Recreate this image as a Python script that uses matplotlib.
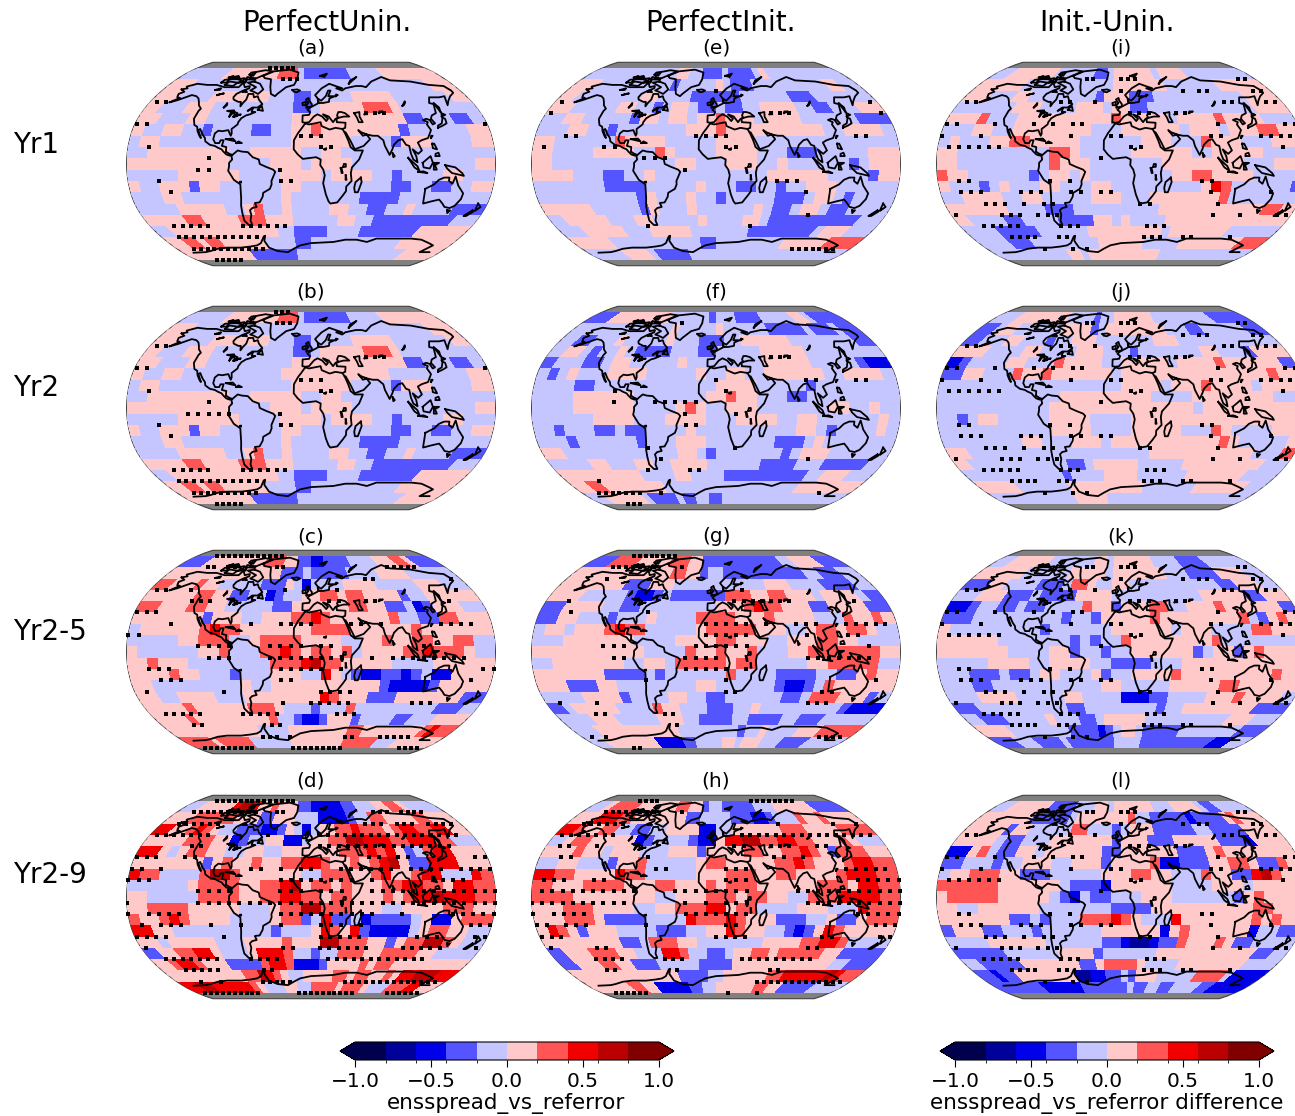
import numpy as np
import matplotlib
matplotlib.use("Agg")
import matplotlib.pyplot as plt
from matplotlib.cm import ScalarMappable
from matplotlib.colors import BoundaryNorm
from matplotlib.patches import Polygon

# figure in pixels
W, H = 1295, 1116

# ── map layout ──────────────────────────────────────────────────────────────
COL_X = [126, 531, 936]
ROW_Y = [62, 306, 550, 795]
MAP_W, MAP_H = 370, 204
LETTER_X = [311, 716, 1121]
LETTER_Y = [48, 292, 537, 781]
COL_TITLES = ["PerfectUnin.", "PerfectInit.", "Init.-Unin."]
COL_TITLE_X = [327, 720, 1107]
ROW_LABELS = ["Yr1", "Yr2", "Yr2-5", "Yr2-9"]
ROW_LABEL_Y = [145, 388, 632, 875]
LETTERS = [["(a)", "(b)", "(c)", "(d)"], ["(e)", "(f)", "(g)", "(h)"], ["(i)", "(j)", "(k)", "(l)"]]

LEVELS = [-1.0, -0.8, -0.6, -0.4, -0.2, 0.0, 0.2, 0.4, 0.6, 0.8, 1.0]
CB_TICKS = [-1.0, -0.5, 0.0, 0.5, 1.0]

# map shape, pole to equator width and height per 5 deg
TAB_LAT = [0, 5, 10, 15, 20, 25, 30, 35, 40, 45, 50, 55, 60, 65, 70, 75, 80, 85, 90]
TAB_LEN = [1, .9986, .9954, .99, .9822, .973, .96, .9427, .9216, .8962, .8679, .835,
           .7986, .7597, .7186, .6732, .6213, .5722, .5322]
TAB_Y = [0, .062, .124, .186, .248, .31, .372, .434, .4958, .5571, .6176, .6769,
         .7346, .7903, .8435, .8936, .9394, .9761, 1.0]

# ── cell classes, top row (85..75N) to bottom row (75..85S), 36 columns from 180W
# token = class digit + run length, class 0..9 is one colour bin from -1 to 1
ROWS_A = [
    "45 58 63 41 37 45 57", "52 432 52", "52 44 57 43 32 45 55 47 51",
    "51 43 53 49 32 41 55 63 51 48", "52 43 52 49 512 32 43 32 41",
    "51 42 52 42 31 44 32 42 52 61 58 31 46 52", "41 52 413 56 44 31 53 44 52",
    "42 58 42 55 42 52 415", "510 44 53 41 54 412 52",
    "45 56 44 54 41 54 42 31 44 52 43", "51 42 53 31 52 46 52 49 32 42 32 42 52",
    "43 52 410 51 47 34 49", "44 55 42 51 61 42 51 44 52 42 32 42 51 44 33",
    "54 62 54 63 53 45 52 42 39 42", "41 513 42 34 44 37 55",
    "51 62 51 62 56 44 32 412 56", "59 37 416 54",
]
ROWS_B = list(ROWS_A)
ROWS_B[5] = "51 42 52 410 511 48 52"
ROWS_C = [
    "32 59 63 52 32 22 34 44 53 62 51 32", "514 32 31 41 35 44 54 45",
    "61 53 61 52 45 33 51 41 21 44 54 45 53 42",
    "55 62 52 32 42 21 31 42 52 62 51 62 54 31 42 55",
    "62 53 62 52 45 32 56 62 52 32 41 21 31 53 42 51",
    "57 31 53 42 53 62 71 61 56 61 42 32 62 53", "41 56 61 71 62 57 64 56 61 57",
    "45 52 63 42 51 64 54 42 52 61 52 62 52 62 42",
    "51 46 52 61 43 62 71 61 51 62 51 61 41 54 62 71 62 61 51 42",
    "52 61 53 48 63 71 81 62 55 44 56",
    "54 61 52 43 31 43 53 42 71 51 41 31 22 32 21 31 41 22 54",
    "52 49 51 42 511 31 24 31 55 42", "52 42 54 43 58 71 61 53 33 57 32",
    "54 61 56 63 51 43 31 43 61 49 33 41", "53 61 59 61 42 31 22 31 53 31 44 32 43 53",
    "511 44 58 62 58 61 71 61", "63 51 65 46 58 65 43 55",
]
ROWS_D = [
    "41 55 71 82 71 52 61 53 32 25 32 43 52 62 51 43",
    "52 66 53 32 53 43 24 31 42 62 54 62 52",
    "71 52 61 71 61 51 42 33 22 31 51 41 21 41 52 62 71 63 51 61 72 62 72 51",
    "54 63 52 21 31 42 52 22 41 52 62 82 73 62 73 62 42",
    "72 51 41 51 62 52 42 52 42 56 63 71 61 71 51 31 41 61 72 53",
    "57 31 51 61 52 61 52 62 72 61 52 61 51 61 71 81 51 32 73 53",
    "71 62 44 61 82 61 56 42 63 52 61 71 52 61 72 43 71 61",
    "46 51 64 52 62 71 81 51 62 51 61 53 62 72 62 51 72 62",
    "52 45 64 52 62 72 62 51 62 53 61 51 61 72 81 73 62",
    "52 64 55 43 51 62 82 63 53 42 54 63 52",
    "61 52 61 71 61 54 44 51 62 31 41 71 32 41 21 34 41 51 22 51 63",
    "72 52 410 31 43 51 71 61 51 71 31 24 41 51 62 52 42",
    "52 41 55 43 54 61 53 82 63 52 31 51 62 82 61 51 42",
    "31 52 62 72 51 43 51 72 71 61 42 31 42 63 52 64 52 44",
    "51 61 72 61 53 34 61 72 61 23 31 54 61 51 62 58",
    "59 62 81 71 61 51 42 54 62 51 62 52 61 51 72 83 71",
    "71 82 76 61 51 43 52 42 64 51 63 51 43 63 72 51",
]
ROWS_E = [
    "412 52 42 33 41 34 41 51 410", "52 410 31 45 51 41 33 410 52 41",
    "51 48 52 44 36 46 33 46", "52 45 52 42 31 41 52 41 32 41 32 42 54 42 32 43 52",
    "42 52 45 31 52 41 52 41 52 61 53 41 54 46 33",
    "43 52 42 31 47 53 61 510 42 54 41", "52 46 61 54 45 54 414",
    "52 44 54 42 61 51 44 54 43 33 45 53", "52 412 52 43 53 42 51 46 31 41 53",
    "54 43 32 42 51 411 56 44 31 52", "47 34 45 51 43 32 42 31 42 53 46",
    "410 31 51 43 51 42 31 45 33 41 52 41 31 44",
    "55 45 31 51 43 51 46 51 41 32 41 52 41 32 44", "41 55 43 52 45 51 44 52 41 310 42",
    "42 55 43 55 47 38 41 53 42", "54 412 32 49 56 63", "44 54 41 35 422",
]
ROWS_F = [
    "32 59 46 31 43 34 45 52 41 33", "412 51 45 51 46 35 41 33 41 31",
    "41 32 43 51 45 51 43 33 42 56 48 31", "41 52 41 31 42 51 41 34 43 32 45 55 48",
    "31 43 32 41 52 45 51 48 55 45 31 22", "41 31 41 51 43 54 45 51 42 52 42 56 42 54 41",
    "44 32 412 54 45 31 48", "44 56 47 52 61 52 43 32 49",
    "44 56 44 51 61 51 42 53 47 52 42 51 42", "46 54 43 54 43 54 42 52 46 51 41",
    "42 31 43 32 41 32 44 51 410 52 41 31 44 51 41", "43 31 46 31 43 53 47 33 41 51 47",
    "52 412 52 41 31 47 31 41 53 46", "44 52 43 52 42 54 46 34 43 35 41",
    "59 44 52 44 310 42 53 42", "51 62 58 418 57", "41 56 41 34 41 32 42 32 417",
]
ROWS_G = [
    "32 64 55 63 52 312 42 54 32", "512 62 52 31 42 311 42 33 41", "57 33 53 411 53 44 34 41",
    "53 45 31 22 31 41 36 63 52 62 53 41 54 41 31",
    "32 54 42 32 45 43 53 61 71 62 53 32 54 32",
    "32 52 43 31 43 51 44 64 53 61 54 43 61 52 61 51",
    "41 52 41 53 61 71 62 45 51 65 53 42 51 62 51 62 51 42",
    "43 57 44 54 62 53 42 53 62 52 44", "511 44 61 52 61 52 61 43 52 67 52",
    "42 57 42 52 41 65 51 62 45 52 65 42", "57 34 41 31 46 61 44 34 42 32 51 61 52",
    "53 33 52 48 52 46 31 22 31 41 61 56", "44 54 31 44 52 42 32 46 32 41 63 53 31 41",
    "31 41 55 44 61 52 43 33 42 51 49 31 23", "43 53 45 53 42 34 42 34 42 33 45",
    "42 511 48 31 42 51 44 53 64", "41 58 24 32 44 52 41 53 43 34 44",
]
ROWS_H = [
    "41 51 64 56 62 52 31 42 35 43 56 33", "52 73 62 57 32 44 33 22 31 43 61 52 61 53",
    "71 61 52 62 42 32 42 54 22 42 56 63 54 63",
    "41 51 62 55 21 31 44 31 22 51 72 82 62 72 62 53 61 51 42",
    "53 61 52 41 53 43 53 31 54 62 52 62 71 61 51 31 61 62 53",
    "42 52 43 31 52 61 45 51 62 55 62 71 61 53 61 72 62",
    "72 62 54 71 62 45 53 63 52 62 54 61 73 62",
    "62 53 64 53 62 53 61 51 63 56 63 51 72 62",
    "64 58 42 53 63 51 62 52 42 62 61 74 63",
    "53 63 54 42 52 63 72 51 62 44 53 43 71 63",
    "53 63 51 34 44 71 63 71 61 53 33 42 51 32 51 63",
    "51 71 61 51 31 53 44 33 42 52 71 61 52 42 31 21 31 51 71 61 55",
    "58 32 41 63 52 47 54 62 72 61 44",
    "31 53 63 52 43 72 61 42 32 41 52 62 51 65 52 34",
    "31 53 62 52 33 45 34 512 42 32", "513 34 42 56 62 76 81 71 61",
    "55 62 52 25 32 42 56 62 52 35 43",
]
ROWS_I = [
    "41 57 46 32 41 56 41 54 48", "55 412 57 47 55", "52 43 52 48 31 53 33 411 53",
    "46 53 44 53 41 52 32 412 53", "53 61 43 510 61 55 41 54 61 54 43",
    "43 52 42 58 43 56 41 53 41 53 62 52", "41 51 43 52 62 54 51 46 53 43 61 53 43 53",
    "52 49 62 51 45 56 42 55 44", "52 49 61 53 47 58 43 53",
    "61 52 46 31 41 52 41 51 48 52 62 54 45", "51 43 31 41 51 43 52 43 52 49 51 71 61 46 31",
    "42 54 42 52 45 53 43 57 61 47", "56 44 33 49 511 62 51",
    "51 44 32 44 34 52 41 51 44 513", "43 35 46 59 41 57 45", "43 33 49 56 45 58 62",
    "410 52 41 511 412",
]
ROWS_J = [
    "42 58 44 31 42 56 49 34", "31 41 52 46 54 31 41 58 43 32 46 31",
    "31 43 52 43 31 42 53 47 53 411", "53 44 52 44 53 43 31 47 52 43 31 53",
    "21 31 44 52 43 61 54 42 55 41 54 61 56 31", "32 52 43 61 52 61 56 41 515 61 52",
    "418 54 41 53 61 54 41 54", "412 59 44 58 43", "411 514 41 510",
    "42 31 41 52 45 54 44 517", "411 54 44 55 43 61 51 44 53", "48 52 43 53 41 511 61 51 45 51",
    "52 419 511 43 61", "51 411 32 41 55 45 59 42", "411 31 44 54 46 57 43", "54 47 510 47 57 41",
    "411 55 420",
]
ROWS_K = [
    "41 56 47 52 41 56 44 34 45", "55 46 55 41 57 43 34 54 41", "32 52 44 33 41 62 51 42 52 411 32 53 41",
    "42 53 33 41 34 54 410 55 31 31 52", "22 31 42 32 41 32 44 61 52 31 53 62 42 53 61 56 31",
    "33 49 31 42 31 55 61 58 61 41 31 51 61 51", "51 49 31 46 56 41 53 44 62 53",
    "56 47 31 41 31 42 61 57 51 61 48", "57 44 52 31 42 31 42 56 31 41 52 31 51 61 54",
    "45 54 42 54 42 34 43 512", "43 33 41 32 41 52 43 51 31 42 54 61 59 61 52",
    "43 32 411 52 45 55 62 56", "43 54 45 52 44 23 32 44 53 61 54 43",
    "32 410 32 48 31 42 58 33", "41 33 45 51 43 32 41 55 410 53 42",
    "53 48 34 21 31 41 52 41 35 48 32", "32 43 34 41 36 31 43 41 311 23 41",
]
ROWS_L = [
    "41 56 34 43 52 41 56 43 54 41 32 43", "56 35 41 55 52 61 42 35 21 34 51 61 52",
    "54 31 52 45 62 43 31 41 53 35 42 34 53", "54 41 32 43 57 31 53 33 55 33 21 53",
    "22 51 61 41 32 52 41 56 32 56 33 51 61 57",
    "32 43 31 42 53 42 53 31 54 61 22 33 52 62 51 32 61 51",
    "41 52 63 52 33 45 53 62 52 43 61 52 32 71 81 61 52", "66 56 41 33 21 56 44 53 41 55",
    "51 65 55 41 31 21 41 32 43 53 46 31 51 61 54", "52 42 56 47 34 510 62 53",
    "57 32 41 31 43 63 71 61 51 43 71 57 61 51 61 52",
    "31 53 32 43 31 46 56 21 51 61 56 21 42 32", "44 56 46 32 21 12 21 32 61 53 61 51 32 44",
    "35 46 54 31 46 511 32 41", "41 35 57 32 51 64 51 44 58 43", "31 21 32 58 12 22 32 41 31 53 45 64 41 23",
    "36 26 37 41 32 42 32 44 32 24",
]

# ── stippling, tens of degrees of longitude by latitude ─────────────────────
STIP_A = {
    85: [-7, -6, -5, -4, -3], 75: [-4, -3, -2], 55: [-18, -17], 45: [6, 7, 8], 35: [-18, -17, 18],
    25: [-1, 0, 1], 15: [-16, 1, 2], 5: [-10], -5: [-11, -10, -3], -15: [-15, -3, -2], -25: [-14],
    -55: [-16, -15, -14, -13, -12, -8, -7, -6, -5, -4, -3],
    -65: [-17, -16, -15, -14, -13, -12, -11, -10, -9, -8, -7],
    -75: [-17, -16, -15, -14, -13, -12, -11, -10, -9, -8, -7], -85: [-16, -15, -14, -13, -12],
}
STIP_B = {
    85: [-6, -5, -4], 75: [-5, -4, -3], 55: [-18, -17], 45: [6, 7, 8], 35: [-18, -17, 18],
    25: [-1, 0, 1], 15: [-16, 1, 2], 5: [-10], -5: [-12, -11, -10, -9, -8, -3], -15: [-15, -3, -2],
    -25: [-14], -55: [-16, -15, -14, -13, -12, -8, -7, -6, -5, -4, -3],
    -65: [-17, -16, -15, -14, -13, -12, -11, -10, -9, -8, -7],
    -75: [-17, -16, -15, -14, -13, -12, -11, -10, -9, -8], -85: [-16, -15, -14, -13, -12],
}
STIP_C = {
    85: [-16, -15, -14, -13, -12, -11, -10, -9, -8, -7, -6, -5],
    75: [-15, -14, -12, -11, -5, -4, 11, 12, 13, 14, 15], 65: [7, 8, 18], 55: [-18, -17, -14, -3, 3, 17],
    45: [-13, -12, -11, 2, 3, 6, 7, 15], 35: [-18, -17, -16],
    25: [-14, -6, -3, -2, -1, 0, 4, 5, 7, 13, 14, 15, 16], 15: [-18, -17],
    5: [-11, -10, -9, -8, -4, -3, -2, -1, 1, 2, 11],
    -5: [-10, -9, -8, -4, -3, -2, -1, 0, 1, 2, 3, 6, 8, 9, 10, 11, 12, 13, 14, 15],
    -15: [-16, -15, -14, -3, -2, -1, 0, 1, 3, 17, 18], -25: [-15, -14, -13, -3, -2, 16],
    -35: [-17, -9, 1, 2, 3, 4], -45: [-3, 0, 1, 2, 3, 4, 11, 12, 13],
    -55: [-17, -16, -15, -14, -13, -8, -7, -6, -5, -4, 3, 4, 5], -65: [-15, -14, -5, -4],
    -75: [-7, -6, -5, -3, 5, 6, 10, 11, 12, 13, 14],
    -85: [-18, -17, -16, -15, -14, -13, -12, -11, -10, -3, -2, -1, 0, 1, 2, 3, 4, 5, 15, 16, 17, 18],
}
STIP_D = {
    85: [-16, -15, -14, -13, -12, -11, -10, -9, -8, -7, -6, -5, -4, -3],
    75: [-17, -16, -15, -14, -13, -12, -11, -10, -9, -8, -5, -4, 9, 10, 11, 13, 14, 15, 16],
    65: [-17, -16, -15, -14, -13, -12, 7, 8, 9, 11, 12, 13, 15, 16, 17, 18],
    55: [-18, -17, -16, -15, -14, -13, -12, -5, 1, 2, 3, 4, 5, 6, 7, 8, 9, 10, 11, 12, 13, 14, 15, 16, 17],
    45: [-13, -12, 1, 2, 3, 4, 5, 6, 7, 8, 9, 10, 11, 12, 13, 14, 15],
    35: [-18, -17, -16, -13, -12, 6, 7, 9, 10, 17, 18],
    25: [-18, -17, -15, -6, -5, -3, -1, 0, 3, 4, 5, 6, 7, 8, 10, 11, 12, 13, 15, 16, 17, 18],
    15: [-18, -17, -16, -3, -2, -1, 0, 1, 2, 3, 4, 6, 12, 13, 14, 15],
    5: [-11, -10, -9, -8, -3, -2, -1, 1, 2, 3, 6, 7, 8, 9, 10, 11, 12, 13, 14, 15, 16, 17, 18],
    -5: [-18, -11, -10, -9, -8, -7, -6, -5, -4, -3, -2, -1, 0, 1, 2, 3, 4, 5, 6, 7, 8, 9, 10, 11, 12, 13, 14,
         15, 16, 17, 18],
    -15: [-18, -16, -15, -14, -13, -3, -2, -1, 0, 1, 2, 3, 4, 5, 6, 9, 14, 15, 16, 17, 18],
    -25: [-17, -15, -14, -13, -10, -7, -3, 1, 2, 3, 5, 16, 17, 18],
    -35: [-18, -17, -16, -15, -9, 1, 2, 3, 4, 5, 11, 12, 13, 17, 18],
    -45: [-18, -3, -2, 1, 2, 3, 4, 5, 6, 10, 11, 12, 13, 14, 18],
    -55: [-17, -16, -15, -14, -13, -12, -11, -7, -6, -5, -4, 2, 3, 4, 5, 6, 7, 8, 9, 10, 11, 12, 13],
    -65: [-16, -15, -14, -13, -12, -6, -5],
    -75: [-16, -13, -7, -6, -5, -4, -3, 5, 6, 7, 8, 9, 10, 11, 12, 13, 14, 15, 16, 17, 18],
    -85: [-18, -17, -16, -15, -14, -13, -12, -11, -10, -9, -2, -1, 0, 1, 2, 3, 4, 5, 6, 7, 13, 14, 15, 16, 17, 18],
}
STIP_E = {
    65: [0], 55: [-18, 18], 45: [-18, 6, 7, 8, 18], 25: [-15, -14, -2, -1, 0, 1, 14, 15],
    15: [-17, -11, -10, 1, 2], 5: [-7, -6, -5], -5: [-3], -15: [6, 7, 8], -25: [9], -45: [10], -55: [-8, 4],
    -75: [11, 12, 13, 14, 15, 16, 17],
}
STIP_F = {
    75: [-5], 45: [6, 7, 8], 25: [0, 9, 10, 14, 15], 15: [-10, 1], 5: [-10, -6, -5, -4, -3, -2], -5: [-3, 2],
    -15: [-3, -2], -35: [-7, 2], -45: [-6, 10], -55: [-8, -3, -2], -65: [-15],
    -75: [-17, -16, -15, -14, -13, -12, -11, -8, 15], -85: [-15, -14, -13],
}
STIP_G = {
    85: [-14, -13, -12, -11, -10, -9, -8, -7], 75: [-15, -14, -13, -12, -11, -9, -5], 65: [-14], 55: [3],
    45: [-16, 2, 3, 4, 5, 6, 7, 8, 15], 35: [-15, -7],
    25: [-1, 0, 1, 2, 3, 5, 8, 9, 10, 13, 14, 15, 16, 17], 15: [-1, 0, 1, 2, 3, 9, 13, 14],
    5: [-11, -10, -9, -2, -1, 0, 1, 2, 3, 15], -5: [-10, -9, -3, -2, -1, 0, 9, 10, 11, 12, 13, 14, 15],
    -15: [-3, -2, -1, 0, 1, 3], -25: [-7, 1, 16], -35: [1, 2, 11, 12], -45: [-17, -13, 10, 11, 12],
    -55: [-14, -13, -6, -5], -65: [-5], -75: [-18, -16, 15, 16, 17, 18], -85: [-14, -13],
}
STIP_H = {
    85: [-13, -12, -11, -10, 6, 7, 8, 9, 10, 11, 12, 13],
    75: [-16, -15, -14, -13, -12, -11, -10, -9, -5], 65: [-17, -16, -15, -14, -13, -12, 8, 15, 18],
    55: [-18, -17, -16, -15, -14, -13, -12, 3, 4, 5, 6, 7, 8, 9, 10, 11, 12, 13, 14, 15, 16, 17, 18],
    45: [-17, -16, -13, 2, 3, 6, 7, 8, 11, 12], 35: [-16, -15, -7, 6, 7, 9],
    25: [-6, -5, 1, 2, 3, 13, 14, 15, 16, 17], 15: [-17, -16, -15, -12, -11, 1, 2, 3, 14, 15, 16, 17, 18],
    5: [-17, -16, -15, -14, -13, -12, -11, -10, -9, -8, -4, -3, -2, -1, 0, 1, 2, 3, 8, 9, 10, 11, 12, 13, 14, 15,
        16, 17, 18],
    -5: [-18, -17, -16, -15, -14, -13, -12, -11, -10, -9, -3, -1, 1, 2, 3, 9, 10, 11, 12, 13, 14, 15, 16, 17, 18],
    -15: [-18, -16, -15, -14, -13, -3, -2, -1, 0, 1, 2, 3, 14, 15, 16, 17, 18],
    -25: [-18, -17, -15, -14, -13, -7, 1, 2, 16, 17, 18], -35: [-18, -17, -16, 0, 1, 2, 3, 11, 12, 17, 18],
    -45: [-18, -13, -12, 10, 11], -55: [-14, -13, -12, -11, -6, -5, -4, 3, 4, 5, 6, 7, 8, 9, 10, 11],
    -65: [-14, -13, -5, 7, 8], -75: [6, 7, 8, 9, 10, 11, 12, 13, 14, 15, 16, 17, 18],
    -85: [-17, -16, -15, -14, -13, -12, 2, 7],
}
# the third column shares one stipple pattern
STIP_I = {
    75: [-5, -4, 0, 1, 2, 17, 18], 65: [0, 8, 10, 11, 17, 18], 55: [-18, -17, -7, -6, -3, 12, 13, 17, 18],
    45: [1, 2, 3, 6, 7], 35: [-18, -17, -13, -9, -7, -5, -4, 10, 17, 18],
    25: [-18, -14, -5, -1, 0, 9, 10, 14, 15, 16, 17], 15: [-17, -16, -15, -14, -13, -12, 1, 2, 16], 5: [-2],
    -15: [-16, -15, -7, -5, 8, 9], -25: [-16, -15, -14, -10, -9, -8, -5, -4, -2, -1, 9, 15],
    -35: [-14, -13, -12, -10, -8, -7, 2, 3, 10], -45: [-18, -13, -12, -11, -9, -8, -7, 10, 13, 17, 18],
    -55: [-16, -15, -14, -13, -12, -7, -6, -5, 3, 4, 5], -65: [-14, -13, -12, -11, -8, -7, 3, 4, 5, 8, 9, 14],
    -75: [-11, -7, -5],
}

# ── coastlines and lakes, lon/lat ───────────────────────────────────────────
COAST = [
    [(-168, 66), (-162, 67), (-166, 68.5), (-156, 71), (-141, 70), (-128, 70), (-115, 68), (-108, 68), (-96, 68),
     (-94, 72), (-88, 68), (-82, 69), (-81, 67), (-87, 65), (-93, 62), (-94, 59), (-92, 57), (-85, 55), (-82, 55),
     (-80, 51), (-79, 54), (-77, 57), (-78, 62), (-72, 62), (-69, 59), (-65, 60), (-62, 57), (-56, 53), (-60, 50),
     (-66, 50), (-70, 47), (-65, 49), (-65, 46), (-61, 46), (-66, 44), (-70, 43), (-74, 40.5), (-76, 37), (-76, 35),
     (-81, 31), (-80, 27), (-80.5, 25), (-82, 27), (-84, 30), (-90, 29), (-94, 29.5), (-97, 27), (-97.5, 22),
     (-95, 18.5), (-91, 18.5), (-90, 21), (-87, 21), (-88, 16), (-83.5, 15), (-83.5, 11), (-80, 9), (-77, 8),
     (-78, 7.5), (-80, 7.5), (-83, 8.5), (-86, 11), (-88, 13), (-92, 14.5), (-95, 16), (-100, 17), (-105, 20),
     (-106, 23), (-109, 26), (-113, 31), (-114.5, 30), (-110, 23), (-112, 25), (-115, 29), (-117, 33), (-120.5, 34.5),
     (-124, 40), (-124, 47), (-123, 49), (-128, 52), (-131, 55), (-135, 58), (-140, 60), (-147, 61), (-152, 59),
     (-158, 56.5), (-165, 54.5), (-158, 58.5), (-162, 59), (-165, 62), (-161, 64), (-168, 66)],
    [(-77, 8), (-72, 12), (-68, 11), (-62, 10.5), (-57, 6), (-51, 4), (-50, 0), (-44, -2.5), (-37, -5), (-35, -7),
     (-39, -15), (-39, -18), (-41, -22), (-48, -25.5), (-49, -29), (-53, -34), (-58, -34.5), (-57, -38), (-62, -39),
     (-65, -41), (-65, -45), (-68, -50), (-68, -54), (-72, -54), (-75, -50), (-74, -43), (-73, -37), (-71, -30),
     (-70, -18), (-76, -14), (-81, -6), (-80, -2), (-80, 1), (-77, 4), (-78, 7.5)],
    [(-6, 36), (-2, 35), (10, 37), (11, 33.5), (19, 30.5), (25, 32), (32, 31), (34, 28), (37, 21), (39, 15), (43, 12),
     (51, 12), (47, 4), (40, -3), (39, -8), (40, -15), (35, -20), (35, -24), (32, -28), (27, -34), (20, -35), (18, -33),
     (15, -27), (12, -17), (13.5, -10), (12, -5), (9, -1), (9.5, 4), (5, 6), (-4, 5), (-8, 4.5), (-13, 8.5), (-17, 13),
     (-17, 21), (-13, 27.5), (-10, 31), (-6, 36)],
    [(34, 28), (35, 28), (39, 21), (43, 13), (52, 16), (59, 22), (56, 26), (52, 25), (48, 30), (51, 28), (57, 26),
     (62, 25), (67, 25), (72, 21), (73, 16), (77, 8), (80, 13), (82, 17), (87, 21), (91, 22), (94, 17), (97, 16),
     (98, 9), (100, 4), (104, 1.5), (103, 7), (100, 13), (105, 9), (109, 12), (106, 19), (110, 21), (117, 23), (122, 30),
     (120, 35), (122, 37), (118, 39), (122, 40), (125, 39), (126, 35), (129, 36), (127, 40), (130, 43), (136, 45),
     (141, 53), (137, 54), (143, 59), (155, 59), (163, 60), (156, 52), (162, 56), (170, 60), (179, 63), (180, 65),
     (178, 69), (160, 70), (140, 73), (113, 74), (105, 77), (85, 73), (73, 68), (68, 69), (60, 69), (45, 67), (40, 65),
     (33, 67), (41, 67), (33, 69), (25, 71), (14, 67), (5, 61), (8, 58), (12, 56), (18, 60), (22, 65), (25, 65), (21, 60),
     (29, 60), (22, 58), (21, 55), (14, 54), (9, 54), (8, 57), (9, 54), (4, 52), (-1, 50), (-4, 48), (-1, 46), (-2, 43.5),
     (-9, 43), (-9, 37), (-6, 36.5), (-2, 37), (3, 42), (7, 44), (12, 42), (16, 38), (18, 40), (13, 44), (19, 42), (23, 37),
     (26, 40), (29, 41), (28, 43), (30, 46), (33, 46), (37, 45), (41, 42), (35, 42), (30, 41), (27, 40), (27, 37), (36, 36.5),
     (35, 32), (32, 31)],
    [(47, 45), (53, 46), (52, 42), (54, 37), (50, 37), (49, 41), (47, 45)],
    [(-73, 78), (-60, 82), (-35, 83.5), (-20, 81), (-20, 75), (-23, 70), (-33, 68), (-42, 62), (-44, 60), (-50, 62),
     (-54, 68), (-58, 75), (-68, 76), (-73, 78)],
    [(-24, 65.5), (-18, 66), (-14, 65), (-18, 63.5), (-22, 64), (-24, 65.5)],
    [(-5, 50), (1, 51), (1, 53), (-2, 56), (-3, 58.5), (-6, 57), (-3, 54), (-5, 52), (-5, 50)],
    [(-6, 52), (-6, 55), (-10, 54), (-9.5, 52), (-6, 52)],
    [(-80, 73), (-70, 71), (-62, 66), (-66, 62), (-73, 64), (-78, 65), (-73, 68), (-88, 72), (-80, 73)],
    [(-117, 70), (-105, 69), (-102, 72), (-115, 73), (-117, 70)],
    [(-90, 76), (-80, 76), (-62, 82), (-75, 83), (-92, 81), (-90, 76)],
    [(-125, 72), (-118, 72), (-118, 75), (-124, 74.5), (-125, 72)],
    [(-95, 75), (-80, 74.5), (-85, 76), (-95, 77), (-95, 75)],
    [(-105, 75), (-96, 73), (-98, 76), (-105, 75)],
    [(-120, 76), (-105, 76), (-110, 78), (-120, 76)],
    [(-87, 64), (-81, 63.5), (-84, 65.5), (-87, 64)],
    [(-101, 72), (-96, 72), (-98, 74), (-101, 72)],
    [(-95, 72), (-91, 72), (-92, 74), (-95, 72)],
    [(-117, 75), (-106, 75), (-110, 76.5), (-117, 75)],
    [(-95, 79), (-88, 78), (-88, 81), (-95, 81), (-95, 79)],
    [(-122, 76.5), (-115, 77), (-118, 78), (-122, 76.5)],
    [(-59, 48), (-53, 47), (-56, 51.5), (-59, 48)],
    [(-85, 22), (-75, 20), (-78, 22.5), (-85, 22)],
    [(-74, 18.5), (-68.5, 18.5), (-72, 20), (-74, 18.5)],
    [(14, 78), (25, 80), (20, 77), (14, 78)],
    [(52, 71), (68, 77), (56, 74), (52, 71)],
    [(142, 46), (144, 50), (142, 54), (142, 46)],
    [(130, 32), (136, 34), (141, 36), (142, 40), (140, 41), (136, 36), (131, 34), (130, 32)],
    [(140, 42), (145, 43.5), (142, 45), (140, 42)],
    [(120, 23), (122, 25), (120.5, 25), (120, 23)],
    [(120, 18), (122, 18), (124, 13), (120, 14), (120, 18)],
    [(122, 7), (126, 7), (125, 10), (122, 9), (122, 7)],
    [(109, 1), (117, 7), (119, 1), (116, -4), (110, -3), (109, 1)],
    [(95, 5.5), (104, -2), (106, -6), (101, -3), (95, 5.5)],
    [(105, -7), (114, -8), (110, -6.5), (105, -7)],
    [(120, 1), (125, 1), (121, -1), (123, -5), (120, -5), (120, 1)],
    [(131, -1), (141, -3), (148, -8), (150, -10.5), (143, -9), (138, -8), (133, -4), (131, -1)],
    [(80, 9.5), (82, 7), (80.5, 6), (80, 9.5)],
    [(49, -12), (50, -16), (47, -25), (44, -25), (43, -21), (44, -16), (49, -12)],
    [(114, -22), (122, -18), (126, -14), (131, -12), (136, -12), (136, -15), (140, -17.5), (142, -11), (146, -19),
     (153, -26), (153, -31), (150, -37), (146, -39), (140, -38), (136, -35), (131, -31.5), (124, -33), (116, -35),
     (115, -31), (114, -22)],
    [(145, -41), (148, -41), (147, -43.5), (145, -41)],
    [(173, -35), (178, -38), (175, -41.5), (174, -39), (173, -35)],
    [(172, -41), (174, -42), (170, -46), (167, -46), (172, -41)],
    [(-180, -78.5), (-160, -78), (-150, -77), (-135, -75), (-120, -74), (-100, -74), (-85, -73), (-75, -72), (-68, -70),
     (-60, -64), (-58, -63.5), (-62, -68), (-60, -74), (-50, -77), (-35, -78), (-25, -75), (-15, -72), (0, -70), (15, -69.5),
     (30, -69), (45, -67), (60, -67), (75, -69), (85, -66), (100, -66), (115, -66), (130, -66), (145, -67), (160, -70),
     (170, -72), (165, -78), (180, -78)],
    # lakes
    [(-92, 47), (-85, 47.5), (-85, 46.5), (-90, 46.5), (-92, 47)],
    [(-87.5, 42), (-85, 45.5), (-87.5, 45.5), (-87.5, 42)],
    [(-84, 46), (-80, 45), (-82, 43), (-84, 45), (-84, 46)],
    [(-83, 42), (-79, 43), (-79, 42.5), (-83, 41.5), (-83, 42)],
    [(-79.5, 43.5), (-76, 44), (-76.5, 43.3), (-79.5, 43.5)],
    [(-98, 50), (-97, 54), (-96, 52), (-98, 50)],
    [(-116, 61), (-109, 62.5), (-112, 62), (-116, 61)],
    [(-124, 65.5), (-118, 67), (-118, 65.5), (-124, 65.5)],
    [(104, 51.5), (110, 55.5), (109, 54), (106, 52), (104, 51.5)],
    [(58, 44), (61, 46), (61, 44), (58, 44)],
    [(74, 45), (79, 46.5), (75, 46.5), (74, 45)],
    [(30, 60), (33, 61), (31, 61.5), (30, 60)],
    [(13, 13), (15, 14), (14.5, 12.5), (13, 13)],
    [(31.5, -2.5), (32, 0), (34, 0), (34, -2.5), (31.5, -2.5)],
    [(29, -3.5), (30, -4), (31, -8), (30, -8), (29, -3.5)],
    [(34, -10), (35, -14), (34, -14), (34, -10)],
    [(-70, -16), (-69, -16.5), (-69, -15.5), (-70, -16)],
]

PANELS = [[ROWS_A, ROWS_B, ROWS_C, ROWS_D], [ROWS_E, ROWS_F, ROWS_G, ROWS_H], [ROWS_I, ROWS_J, ROWS_K, ROWS_L]]
STIPPLES = [[STIP_A, STIP_B, STIP_C, STIP_D], [STIP_E, STIP_F, STIP_G, STIP_H], [STIP_I, STIP_I, STIP_I, STIP_I]]


def project(lon, lat):
    # pseudo-cylindrical: width from the table, latitude linear in y
    lon, lat = np.asarray(lon, float), np.asarray(lat, float)
    return lon / 180.0 * np.interp(np.abs(lat), TAB_LAT, TAB_LEN), lat / 90.0


def outline_x(y):
    # the frame follows the table height, a bit rounder than the data grid
    return np.interp(np.abs(y), TAB_Y, TAB_LEN)


def decode(rows):
    out = []
    for row in rows:
        cells = []
        for tok in row.split():
            cells += [(int(tok[0]) - 4.5) * 0.2] * int(tok[1:])
        cells = (cells + cells[-1:] * 36)[:36]
        out.append(cells)
    return np.array(out)


def px_box(x, y, w, h):
    return [x / W, 1 - (y + h) / H, w / W, h / H]


cmap = plt.get_cmap("seismic")
norm = BoundaryNorm(LEVELS, cmap.N)

lat_edges = np.arange(85, -86, -10)
lon_edges = np.arange(-180, 181, 10)
LON, LAT = np.meshgrid(lon_edges, lat_edges)
GX, GY = project(LON, LAT)
# outer cells run up to the frame
GX[:, 0] = -outline_x(GY[:, 0]) * 1.01
GX[:, -1] = outline_x(GY[:, -1]) * 1.01

oy = np.linspace(-1, 1, 161)
ox = outline_x(oy)
outline = np.column_stack([np.r_[ox, -ox[::-1]], np.r_[oy, oy[::-1]]])

fig = plt.figure(figsize=(W / 100, H / 100), dpi=100, facecolor="white")

for c, x0 in enumerate(COL_X):
    for r, y0 in enumerate(ROW_Y):
        ax = fig.add_axes(px_box(x0, y0, MAP_W, MAP_H))
        ax.set_xlim(-1.003, 1.003)
        ax.set_ylim(-1.003, 1.003)
        ax.axis("off")
        edge = Polygon(outline, closed=True, fc="#808080", ec="#404040", lw=0.8, zorder=1, clip_on=False)
        ax.add_patch(edge)
        mesh = ax.pcolormesh(GX, GY, decode(PANELS[c][r]), cmap=cmap, norm=norm, zorder=2, antialiased=False)
        mesh.set_clip_path(edge)
        for line in COAST:
            lx, ly = project(*zip(*line))
            ax.plot(lx, ly, color="black", lw=1.3, zorder=3, solid_joinstyle="round")
        sx, sy = [], []
        for lat, lons in STIPPLES[c][r].items():
            px_, py_ = project(np.array(lons) * 10.0, np.full(len(lons), lat))
            sx += list(px_)
            sy += list(py_)
        ax.scatter(sx, sy, s=5, marker="s", color="black", linewidths=0, zorder=4)
        fig.text(LETTER_X[c] / W, 1 - LETTER_Y[r] / H, LETTERS[c][r], fontsize=14.5, ha="center", va="center")

for t, x in zip(COL_TITLES, COL_TITLE_X):
    fig.text(x / W, 1 - 23 / H, t, fontsize=20, ha="center", va="center")
for t, y in zip(ROW_LABELS, ROW_LABEL_Y):
    fig.text(13 / W, 1 - y / H, t, fontsize=20, ha="left", va="center")

# colour bars, the box includes the two end triangles
for x0, label, lx in [(340, "ensspread_vs_referror", 506), (940, "ensspread_vs_referror difference", 1107)]:
    cax = fig.add_axes(px_box(x0, 1042, 334, 18))
    cb = fig.colorbar(ScalarMappable(norm=norm, cmap=cmap), cax=cax, orientation="horizontal",
                      extend="both", ticks=CB_TICKS, extendfrac=0.05, spacing="proportional")
    cb.ax.tick_params(labelsize=14.5, length=5, width=0.8)
    cb.ax.set_xticklabels(["\u22121.0", "\u22120.5", "0.0", "0.5", "1.0"])
    fig.text(lx / W, 1 - 1104 / H, label, fontsize=15.5, ha="center", va="center")

fig.savefig("out.png", dpi=100)
